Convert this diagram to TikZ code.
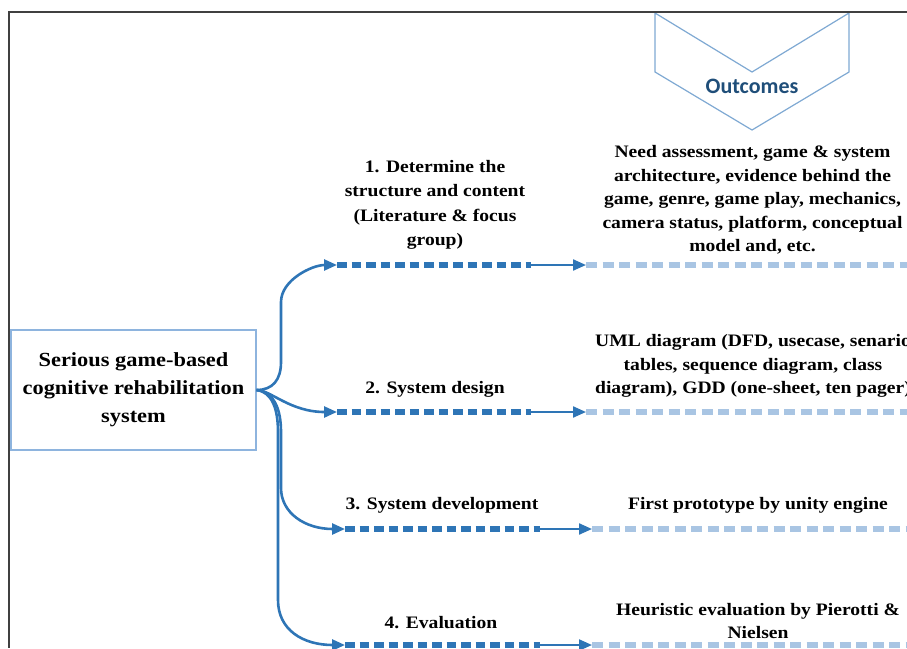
\documentclass[tikz,border=0pt]{standalone}
\usepackage{fontspec}
\setmainfont{Liberation Serif}[FakeStretch=1.12]
\newfontfamily\calibri{Carlito}
\usetikzlibrary{arrows.meta}
\definecolor{dblue}{HTML}{2E75B6}
\definecolor{lblue}{HTML}{A9C5E3}
\definecolor{boxblue}{HTML}{8EB4DE}
\definecolor{chevblue}{HTML}{7FA9D3}
\definecolor{navy}{HTML}{1F4E79}
\definecolor{framegray}{HTML}{404040}
\begin{document}
\begin{tikzpicture}[x=1pt,y=-1pt,
  mainbox/.style={draw=boxblue,line width=1.2pt,minimum width=245pt,minimum height=120pt,align=center,inner sep=0pt,font=\bfseries\fontsize{20}{28}\selectfont},
  steplabel/.style={align=center,inner sep=0pt,font=\bfseries\fontsize{17.5}{24.5}\selectfont},
  outtext/.style={align=center,inner sep=0pt,font=\bfseries\fontsize{17.5}{23.5}\selectfont},
  branch/.style={draw=dblue,line width=2.6pt,-{Triangle[length=13pt,width=11pt]}},
  darkdash/.style={draw=dblue,line width=5.2pt,dash pattern=on 9.5pt off 5pt},
  linkarrow/.style={draw=dblue,line width=2.2pt,-{Triangle[length=13pt,width=11pt]}},
  lightdash/.style={draw=lblue,line width=5.2pt,dash pattern=on 11pt off 5.5pt},
  chev/.style={draw=chevblue,line width=1.2pt,fill=white}
]
\clip (0,0) rectangle (907,648);

% chevron
\draw[chev] (655,13) -- (752,72) -- (849,13) -- (849,72) -- (752,130) -- (655,72) -- cycle;
\node[font=\calibri\bfseries\fontsize{22}{26}\selectfont,text=navy] (outc) at (752,86) {Outcomes};

% main box
\node[mainbox] (main) at (133.5,390) {Serious game-based\\cognitive rehabilitation\\system};

% coordinates
\coordinate (a1) at (337,265); \coordinate (b1) at (531,265); \coordinate (c1) at (586,265); \coordinate (d1) at (907,265);
\coordinate (a2) at (337,412); \coordinate (b2) at (531,412); \coordinate (c2) at (586,412); \coordinate (d2) at (907,412);
\coordinate (a3) at (345,529); \coordinate (b3) at (540,529); \coordinate (c3) at (592,529); \coordinate (d3) at (907,529);
\coordinate (a4) at (345,645); \coordinate (b4) at (540,645); \coordinate (c4) at (592,645); \coordinate (d4) at (907,645);

% labels
\node[steplabel] (l1) at (435,205) {1. Determine the\\structure and content\\(Literature \& focus\\group)};
\node[steplabel] (l2) at (435,389) {2. System design};
\node[steplabel] (l3) at (442,505) {3. System development};
\node[steplabel] (l4) at (441,623) {4. Evaluation};

% outcomes
\node[outtext] (o1) at (752.5,200) {Need assessment, game \& system\\architecture, evidence behind the\\game, genre, game play, mechanics,\\camera status, platform, conceptual\\model and, etc.};
\node[outtext] (o2) at (753,366) {UML diagram (DFD, usecase, senario\\tables, sequence diagram, class\\diagram), GDD (one-sheet, ten pager)};
\node[outtext] (o3) at (758,505) {First prototype by unity engine};
\node[outtext] (o4) at (758,621) {Heuristic evaluation by Pierotti \&\\Nielsen};

% branches
\draw[branch] (main.east) .. controls +(16,0) and +(0,18) .. (281,362) -- (281,302) .. controls +(0,-22) and +(-25,0) .. (a1);
\draw[branch] (main.east) .. controls +(14,0) and +(-47,0) .. (a2);
\draw[branch] (main.east) .. controls +(18,2) and +(0,-22) .. (281,432) -- (281,488) .. controls +(0,25) and +(-40,0) .. (a3);
\draw[branch] (main.east) .. controls +(16,2) and +(0,-22) .. (278,432) -- (278,600) .. controls +(0,30) and +(-42,0) .. (a4);

% rows
\foreach \i in {1,2,3,4}{
  \draw[darkdash] (a\i) -- (b\i);
  \draw[linkarrow] (b\i) -- (c\i);
  \draw[lightdash] (c\i) -- (d\i);
}

% frame
\draw[framegray,line width=1.3pt] (907,12) -- (9,12) -- (9,648);
\end{tikzpicture}
\end{document}
